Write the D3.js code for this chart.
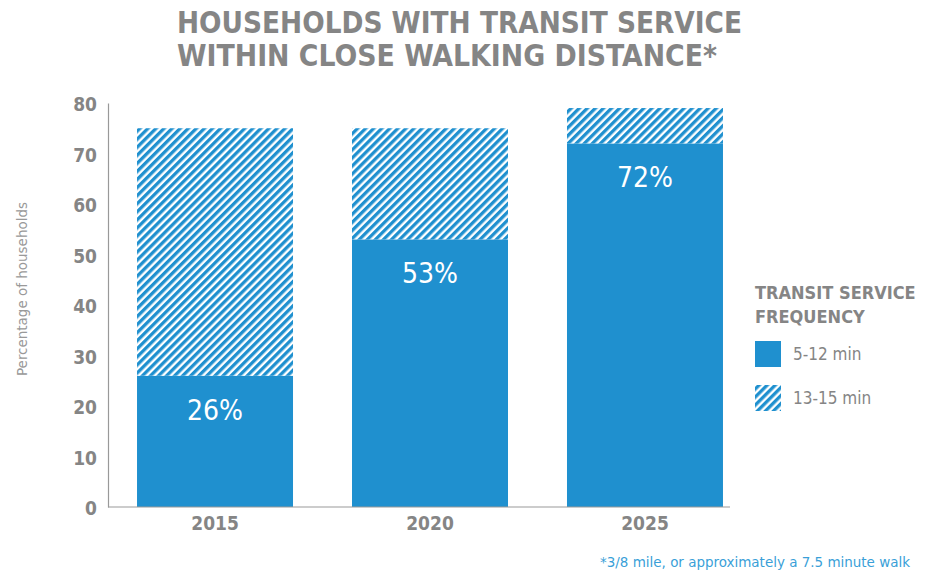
<!DOCTYPE html>
<html>
<head>
<meta charset="utf-8">
<script src="https://cdn.jsdelivr.net/npm/d3@7"></script>
<style>
body { margin: 0; background: #fff; }
text { font-family: "DejaVu Sans Condensed", "DejaVu Sans", sans-serif; }
</style>
</head>
<body>
<div id="chart"></div>
<script>
var years = ["2015", "2020", "2025"];
var freq512 = [26, 53, 72];
var freq1315 = [49, 22, 7];
var yTicks = [0, 10, 20, 30, 40, 50, 60, 70, 80];
var legendItems = ["5-12 min", "13-15 min"];

var w = 935, h = 571;
var blue = "#1f90cf";
var grey = "#858585";

var svg = d3.select("#chart").append("svg")
	.attr("width", w)
	.attr("height", h);

// hatch pattern
var pat = svg.append("defs").append("pattern")
	.attr("id", "hatch")
	.attr("patternUnits", "userSpaceOnUse")
	.attr("width", 5.7)
	.attr("height", 5.7)
	.attr("patternTransform", "rotate(45)");
pat.append("rect").attr("width", 5.7).attr("height", 5.7).attr("fill", "#fff");
pat.append("rect").attr("width", 3.3).attr("height", 5.7).attr("fill", blue);

var x = d3.scaleBand()
	.domain(years)
	.range([108, 752])
	.paddingInner(0.2744)
	.paddingOuter(0.135);

var y = d3.scaleLinear()
	.domain([0, 80])
	.range([507, 103]);

// title
var title = ["HOUSEHOLDS WITH TRANSIT SERVICE", "WITHIN CLOSE WALKING DISTANCE*"];
svg.selectAll(".title")
	.data(title)
	.enter().append("text")
	.attr("class", "title")
	.attr("x", 177)
	.attr("y", (d, i) => 33 + i * 33)
	.attr("font-size", 30)
	.attr("font-weight", "bold")
	.attr("fill", grey)
	.attr("textLength", (d, i) => i == 0 ? 565 : 540)
	.attr("lengthAdjust", "spacingAndGlyphs")
	.text(d => d);

// bars
var bars = svg.append("g");
bars.selectAll(".solid")
	.data(years)
	.enter().append("rect")
	.attr("x", d => x(d))
	.attr("width", x.bandwidth())
	.attr("y", (d, i) => y(freq512[i]))
	.attr("height", (d, i) => y(0) - y(freq512[i]))
	.attr("fill", blue);

bars.selectAll(".hatch")
	.data(years)
	.enter().append("rect")
	.attr("x", d => x(d))
	.attr("width", x.bandwidth())
	.attr("y", (d, i) => y(freq512[i] + freq1315[i]))
	.attr("height", (d, i) => y(freq512[i]) - y(freq512[i] + freq1315[i]))
	.attr("fill", "url(#hatch)");

bars.selectAll(".lbl")
	.data(years)
	.enter().append("text")
	.attr("x", d => x(d) + x.bandwidth() / 2)
	.attr("y", (d, i) => y(freq512[i]) + 44)
	.attr("text-anchor", "middle")
	.attr("font-size", 28)
	.attr("fill", "#fff")
	.text((d, i) => freq512[i] + "%");

// axes
var yAxis = svg.append("g")
	.attr("transform", "translate(108,0)")
	.call(d3.axisLeft(y).tickValues(yTicks).tickSize(0).tickPadding(11));
yAxis.select(".domain").attr("stroke", "#999").attr("stroke-width", 1.2);
yAxis.selectAll("text")
	.attr("font-size", 19)
	.attr("font-weight", "bold")
	.attr("fill", grey)
	.attr("dy", "0.42em")
	.style("font-family", "'DejaVu Sans Condensed', sans-serif");

svg.append("line")
	.attr("x1", 108).attr("x2", 730)
	.attr("y1", y(0)).attr("y2", y(0))
	.attr("stroke", "#999").attr("stroke-width", 1.2);

var xAxis = svg.append("g")
	.attr("transform", "translate(0," + y(0) + ")")
	.call(d3.axisBottom(x).tickSize(0).tickPadding(9));
xAxis.select(".domain").remove();
xAxis.selectAll("text")
	.attr("font-size", 19)
	.attr("font-weight", "bold")
	.attr("fill", grey)
	.attr("dy", "0.75em")
	.style("font-family", "'DejaVu Sans Condensed', sans-serif");

svg.append("text")
	.attr("transform", "translate(27,289) rotate(-90)")
	.attr("text-anchor", "middle")
	.attr("font-size", 14)
	.attr("fill", "#999")
	.attr("textLength", 174)
	.attr("lengthAdjust", "spacingAndGlyphs")
	.text("Percentage of households");

// legend
var lg = svg.append("g").attr("transform", "translate(755,0)");
lg.selectAll(".lt")
	.data(["TRANSIT SERVICE", "FREQUENCY"])
	.enter().append("text")
	.attr("x", 0)
	.attr("y", (d, i) => 299 + i * 24)
	.attr("font-size", 18)
	.attr("font-weight", "bold")
	.attr("fill", grey)
	.text(d => d);
lg.selectAll(".sw")
	.data(legendItems)
	.enter().append("rect")
	.attr("x", 0)
	.attr("y", (d, i) => 341 + i * 44)
	.attr("width", 26)
	.attr("height", 26)
	.attr("fill", (d, i) => i == 0 ? blue : "url(#hatch)");
lg.selectAll(".li")
	.data(legendItems)
	.enter().append("text")
	.attr("x", 38)
	.attr("y", (d, i) => 360 + i * 44)
	.attr("font-size", 17)
	.attr("fill", grey)
	.text(d => d);

// footnote
svg.append("text")
	.attr("x", 910)
	.attr("y", 567)
	.attr("text-anchor", "end")
	.attr("font-size", 14.5)
	.attr("fill", "#3a9fd8")
	.attr("textLength", 310)
	.attr("lengthAdjust", "spacingAndGlyphs")
	.text("*3/8 mile, or approximately a 7.5 minute walk");
</script>
</body>
</html>
